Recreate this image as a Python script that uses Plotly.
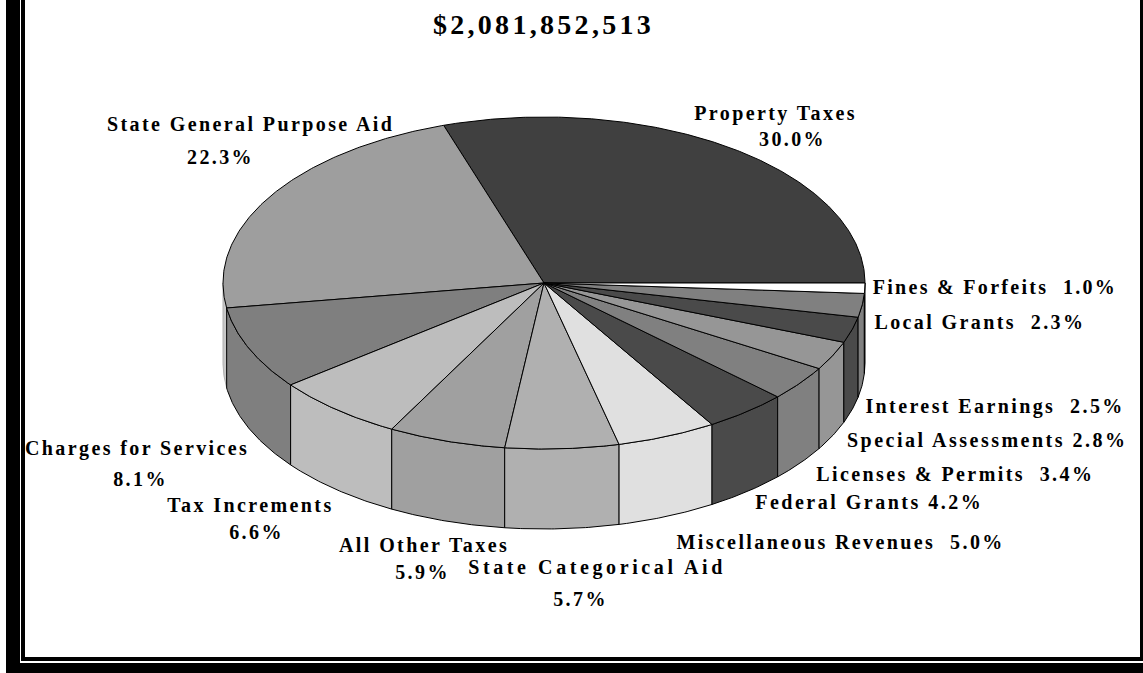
import json
import numpy as np
import plotly.graph_objects as go

title = "$2,081,852,513"
categories = ["Property Taxes", "State General Purpose Aid", "Charges for Services", "Tax Increments",
              "All Other Taxes", "State Categorical Aid", "Miscellaneous Revenues", "Federal Grants",
              "Licenses & Permits", "Special Assessments", "Interest Earnings", "Local Grants", "Fines & Forfeits"]
values = [30.0, 22.3, 8.1, 6.6, 5.9, 5.7, 5.0, 4.2, 3.4, 2.8, 2.5, 2.3, 1.0]
colors = ["#404040", "#9e9e9e", "#7f7f7f", "#bdbdbd", "#a0a0a0", "#b0b0b0", "#e0e0e0",
          "#4a4a4a", "#808080", "#969696", "#4a4a4a", "#808080", "#ffffff"]
wall_colors = ["#404040", "#c8c8c8", "#7f7f7f", "#bdbdbd", "#a0a0a0", "#b0b0b0", "#e0e0e0",
               "#4a4a4a", "#808080", "#969696", "#4a4a4a", "#808080", "#808080"]
wall_lines = ["black", "#b0b0b0"] + ["black"] * 11
# label layout: (name x, name y, pct x, pct y); pct x None = same line as the name
label_pos = [(775, 113, 792, 139), (250, 124, 220, 157), (137, 448, 140, 479), (250, 505, 256, 532),
             (424, 545, 422, 572), (597, 567, 580, 599), (840, 542, None, None), (869, 502, None, None),
             (955, 474, None, None), (987, 440, None, None), (995, 406, None, None), (980, 322, None, None),
             (995, 287, None, None)]
separators = ["", "", "", "", "", "", "  ", " ", "  ", " ", "  ", "  ", "  "]
name_spacing = [2.4, 2.4, 2.4, 2.4, 2.4, 3.6, 2.4, 2.5, 2.4, 2.5, 2.4, 2.4, 2.3]

CX, CY, RX, RY, DEPTH = 544, 283, 321, 166, 80
LABEL_SIZE, TITLE_SIZE = 20, 28

fig = go.Figure()


def add_poly(xs, ys, color, line="black"):
    fig.add_trace(go.Scatter(x=xs, y=ys, mode="lines", fill="toself", fillcolor=color,
                             line=dict(color=line, width=1), hoverinfo="skip", showlegend=False))


edges = np.cumsum([0] + values) / sum(values) * 2 * np.pi
faces = []
for i, v in enumerate(values):
    a0, a1 = edges[i], edges[i + 1]
    t = np.linspace(a0, a1, max(int(v * 8), 4))
    x = CX + RX * np.cos(t)
    y = CY - RY * np.sin(t)
    faces.append((np.r_[CX, x, CX], np.r_[CY, y, CY], colors[i]))
    # side wall: only the part of the rim on the near side
    lo, hi = max(a0, np.pi), a1
    if hi > lo:
        w = np.linspace(lo, hi, max(int(v * 8), 4))
        wx = CX + RX * np.cos(w)
        wy = CY - RY * np.sin(w)
        add_poly(np.r_[wx, wx[::-1], wx[0]], np.r_[wy, wy[::-1] + DEPTH, wy[0]], wall_colors[i], wall_lines[i])
for fx, fy, c in faces:
    add_poly(fx, fy, c)

ann = [dict(x=543, y=24, text=title, size=TITLE_SIZE, ls=3.3)]
for name, v, (nx, ny, px, py), sep, ls in zip(categories, values, label_pos, separators, name_spacing):
    pct = f"{v:.1f}%"
    if px is None:
        ann.append(dict(x=nx, y=ny, text=f"{name}{sep}{pct}", size=LABEL_SIZE, ls=ls))
    else:
        ann.append(dict(x=nx, y=ny, text=name, size=LABEL_SIZE, ls=ls))
        ann.append(dict(x=px, y=py, text=pct, size=LABEL_SIZE, ls=2.4))
annotations = [dict(x=a["x"], y=a["y"], xref="x", yref="y", text=f"<b>{a['text']}</b>", showarrow=False,
                    xanchor="center", yanchor="middle", borderpad=0,
                    font=dict(family="Liberation Serif", size=a["size"], color="black")) for a in ann]


def rect(x0, y0, x1, y1):
    return dict(type="rect", xref="x", yref="y", x0=x0, y0=y0, x1=x1, y1=y1,
                fillcolor="black", line=dict(width=0), layer="above")


shapes = [rect(6, 0, 20, 673), rect(21, 0, 25, 661), rect(21, 657, 1143, 661),
          rect(6, 663, 1143, 673), rect(1140, 0, 1143, 661)]

fig.update_layout(width=1143, height=673, margin=dict(l=0, r=0, t=0, b=0), autosize=False,
                  paper_bgcolor="white", plot_bgcolor="white", showlegend=False,
                  xaxis=dict(range=[0, 1143], visible=False, fixedrange=True),
                  yaxis=dict(range=[673, 0], visible=False, fixedrange=True),
                  annotations=annotations, shapes=shapes)

post = """
document.body.style.margin='0';
var spacing = %s;
document.querySelectorAll('.annotation-text').forEach(function(t,i){
  t.style.letterSpacing = spacing[i] + 'px';
});
""" % json.dumps([a["ls"] for a in ann])
fig.write_html("out.html", config={"displayModeBar": False}, post_script=post)
